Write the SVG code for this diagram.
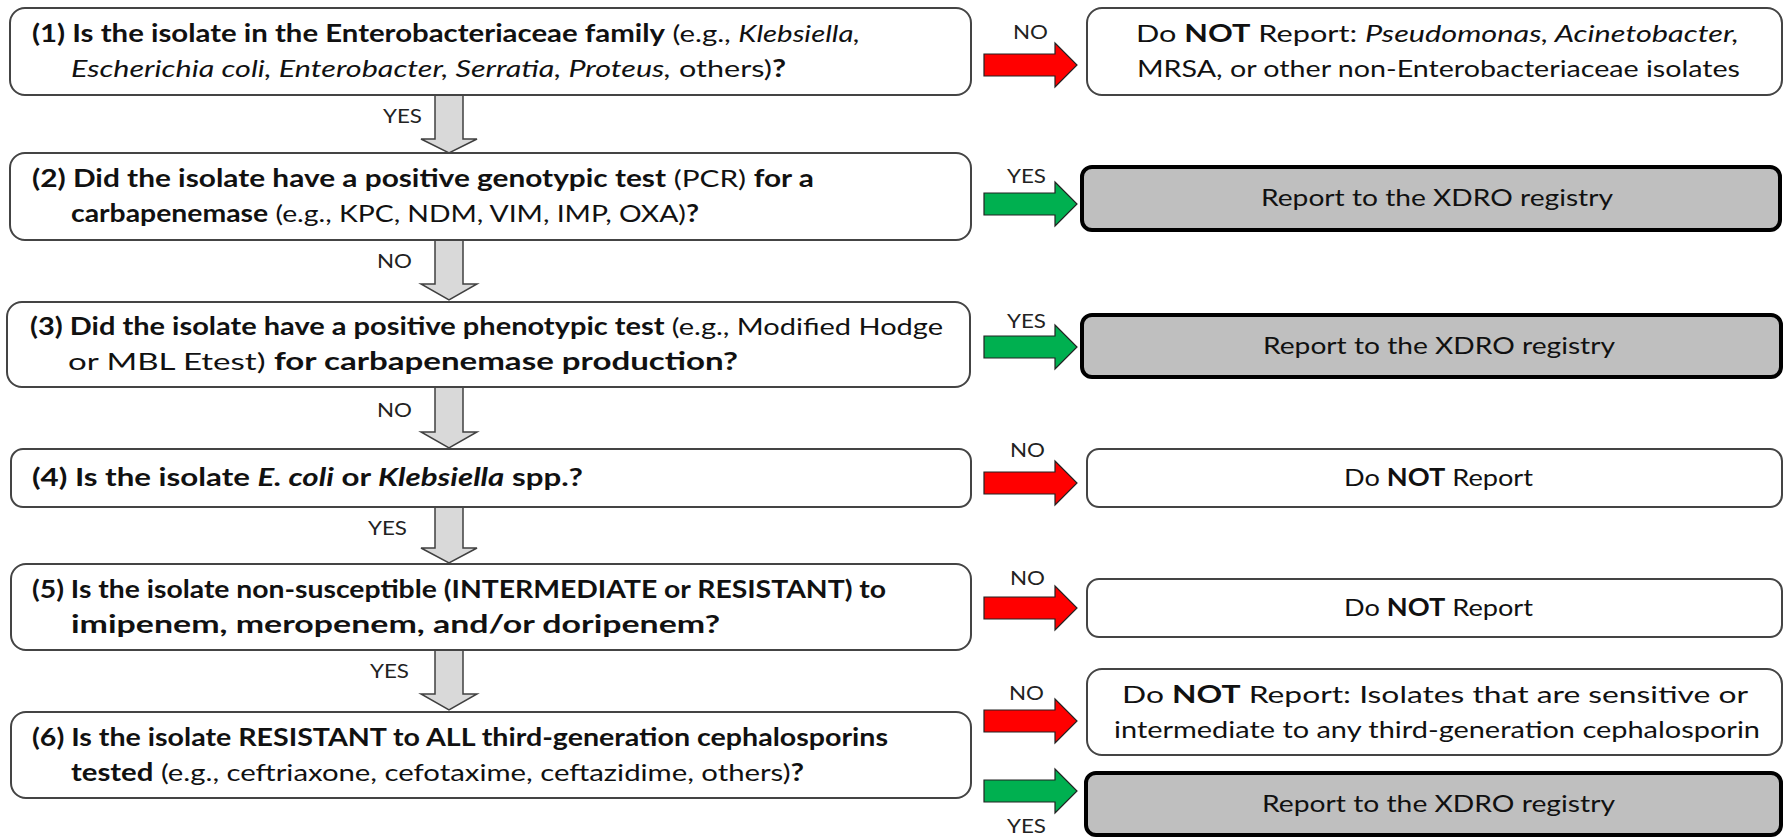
<svg xmlns="http://www.w3.org/2000/svg" width="1786" height="838" viewBox="0 0 1786 838">
<style>
  .q { fill: #fff; stroke: #444; stroke-width: 2; }
  .r { fill: #fff; stroke: #444; stroke-width: 2; }
  .g { fill: #bfbfbf; stroke: #000; stroke-width: 4; }
  text { font-family: Lato, "Open Sans", "Liberation Sans", sans-serif; fill: #111; }
  .t { font-size: 24px; }
  .b { font-weight: bold; }
  .i { font-style: italic; }
  .lbl { font-size: 19px; fill: #222; }
  .down { fill: #d9d9d9; stroke: #404040; stroke-width: 1.5; }
  .red { fill: #ff0000; stroke: #222; stroke-width: 1.2; }
  .grn { fill: #00b050; stroke: #222; stroke-width: 1.2; }
</style>

<g id="connectors">
  <path class="down" d="M435,95 H463 V139 H477 L449,153 L421,139 H435 Z"/>
  <path class="down" d="M435,240 H463 V284 H477 L449,300 L421,284 H435 Z"/>
  <path class="down" d="M435,387 H463 V432 H477 L449,448 L421,432 H435 Z"/>
  <path class="down" d="M435,507 H463 V548 H477 L449,563 L421,548 H435 Z"/>
  <path class="down" d="M435,650 H463 V694 H477 L449,710 L421,694 H435 Z"/>
  <text class="lbl" x="383" y="123" textLength="39" lengthAdjust="spacingAndGlyphs">YES</text>
  <text class="lbl" x="377" y="268" textLength="35" lengthAdjust="spacingAndGlyphs">NO</text>
  <text class="lbl" x="377" y="417" textLength="35" lengthAdjust="spacingAndGlyphs">NO</text>
  <text class="lbl" x="368" y="535" textLength="39" lengthAdjust="spacingAndGlyphs">YES</text>
  <text class="lbl" x="370" y="678" textLength="39" lengthAdjust="spacingAndGlyphs">YES</text>

  <path class="red" d="M984,54 H1055 V43 L1077,65 L1055,87 V76 H984 Z"/>
  <path class="grn" d="M984,193 H1055 V182 L1077,204 L1055,226 V215 H984 Z"/>
  <path class="grn" d="M984,336 H1055 V325 L1077,347 L1055,369 V358 H984 Z"/>
  <path class="red" d="M984,472 H1055 V461 L1077,483 L1055,505 V494 H984 Z"/>
  <path class="red" d="M984,597 H1055 V586 L1077,608 L1055,630 V619 H984 Z"/>
  <path class="red" d="M984,710 H1055 V699 L1077,721 L1055,743 V732 H984 Z"/>
  <path class="grn" d="M984,780 H1055 V769 L1077,791 L1055,813 V802 H984 Z"/>
  <text class="lbl" x="1013" y="39" textLength="35" lengthAdjust="spacingAndGlyphs">NO</text>
  <text class="lbl" x="1007" y="183" textLength="39" lengthAdjust="spacingAndGlyphs">YES</text>
  <text class="lbl" x="1007" y="328" textLength="39" lengthAdjust="spacingAndGlyphs">YES</text>
  <text class="lbl" x="1010" y="457" textLength="35" lengthAdjust="spacingAndGlyphs">NO</text>
  <text class="lbl" x="1010" y="585" textLength="35" lengthAdjust="spacingAndGlyphs">NO</text>
  <text class="lbl" x="1009" y="700" textLength="35" lengthAdjust="spacingAndGlyphs">NO</text>
  <text class="lbl" x="1007" y="833" textLength="39" lengthAdjust="spacingAndGlyphs">YES</text>
</g>

<g id="q1">
  <rect class="q" x="10" y="8" width="961" height="87" rx="15"/>
  <text class="t" x="32" y="42" textLength="828" lengthAdjust="spacingAndGlyphs"><tspan class="b">(1) Is the isolate in the Enterobacteriaceae family</tspan> (e.g., <tspan class="i">Klebsiella,</tspan></text>
  <text class="t" x="71" y="77" textLength="715" lengthAdjust="spacingAndGlyphs"><tspan class="i">Escherichia coli, Enterobacter, Serratia, Proteus,</tspan> others)<tspan class="b">?</tspan></text>
</g>
<g id="r1">
  <rect class="r" x="1087" y="8" width="695" height="87" rx="15"/>
  <text class="t" x="1136" y="42" textLength="603" lengthAdjust="spacingAndGlyphs">Do <tspan class="b">NOT</tspan> Report: <tspan class="i">Pseudomonas, Acinetobacter,</tspan></text>
  <text class="t" x="1137" y="77" textLength="603" lengthAdjust="spacingAndGlyphs">MRSA, or other non-Enterobacteriaceae isolates</text>
</g>

<g id="q2">
  <rect class="q" x="10" y="153" width="961" height="87" rx="15"/>
  <text class="t" x="32" y="187" textLength="782" lengthAdjust="spacingAndGlyphs"><tspan class="b">(2) Did the isolate have a positive genotypic test</tspan> (PCR) <tspan class="b">for a</tspan></text>
  <text class="t" x="71" y="222" textLength="628" lengthAdjust="spacingAndGlyphs"><tspan class="b">carbapenemase</tspan> (e.g., KPC, NDM, VIM, IMP, OXA)<tspan class="b">?</tspan></text>
</g>
<g id="r2">
  <rect class="g" x="1082" y="167" width="698" height="63" rx="10"/>
  <text class="t" x="1261" y="206" textLength="352" lengthAdjust="spacingAndGlyphs">Report to the XDRO registry</text>
</g>

<g id="q3">
  <rect class="q" x="7" y="302" width="963" height="85" rx="15"/>
  <text class="t" x="30" y="335" textLength="913" lengthAdjust="spacingAndGlyphs"><tspan class="b">(3) Did the isolate have a positive phenotypic test</tspan> (e.g., Modified Hodge</text>
  <text class="t" x="68" y="370" textLength="670" lengthAdjust="spacingAndGlyphs">or MBL Etest) <tspan class="b">for carbapenemase production?</tspan></text>
</g>
<g id="r3">
  <rect class="g" x="1082" y="315" width="699" height="62" rx="10"/>
  <text class="t" x="1263" y="354" textLength="352" lengthAdjust="spacingAndGlyphs">Report to the XDRO registry</text>
</g>

<g id="q4">
  <rect class="q" x="11" y="449" width="960" height="58" rx="12"/>
  <text class="t b" x="32" y="486" textLength="551" lengthAdjust="spacingAndGlyphs">(4) Is the isolate <tspan class="i">E. coli</tspan> or <tspan class="i">Klebsiella</tspan> spp.?</text>
</g>
<g id="r4">
  <rect class="r" x="1087" y="449" width="695" height="58" rx="12"/>
  <text class="t" x="1344" y="486" textLength="189" lengthAdjust="spacingAndGlyphs">Do <tspan class="b">NOT</tspan> Report</text>
</g>

<g id="q5">
  <rect class="q" x="11" y="564" width="960" height="86" rx="15"/>
  <text class="t b" x="32" y="598" textLength="854" lengthAdjust="spacingAndGlyphs">(5) Is the isolate non-susceptible (INTERMEDIATE or RESISTANT) to</text>
  <text class="t b" x="71" y="633" textLength="649" lengthAdjust="spacingAndGlyphs">imipenem, meropenem, and/or doripenem?</text>
</g>
<g id="r5">
  <rect class="r" x="1087" y="579" width="695" height="58" rx="12"/>
  <text class="t" x="1344" y="616" textLength="189" lengthAdjust="spacingAndGlyphs">Do <tspan class="b">NOT</tspan> Report</text>
</g>

<g id="q6">
  <rect class="q" x="11" y="712" width="960" height="86" rx="15"/>
  <text class="t b" x="32" y="746" textLength="856" lengthAdjust="spacingAndGlyphs">(6) Is the isolate RESISTANT to ALL third-generation cephalosporins</text>
  <text class="t" x="71" y="781" textLength="733" lengthAdjust="spacingAndGlyphs"><tspan class="b">tested</tspan> (e.g., ceftriaxone, cefotaxime, ceftazidime, others)<tspan class="b">?</tspan></text>
</g>
<g id="r6a">
  <rect class="r" x="1087" y="669" width="695" height="86" rx="15"/>
  <text class="t" x="1122" y="703" textLength="626" lengthAdjust="spacingAndGlyphs">Do <tspan class="b">NOT</tspan> Report: Isolates that are sensitive or</text>
  <text class="t" x="1114" y="738" textLength="646" lengthAdjust="spacingAndGlyphs">intermediate to any third-generation cephalosporin</text>
</g>
<g id="r6b">
  <rect class="g" x="1086" y="773" width="695" height="62" rx="10"/>
  <text class="t" x="1262" y="812" textLength="353" lengthAdjust="spacingAndGlyphs">Report to the XDRO registry</text>
</g>
</svg>
